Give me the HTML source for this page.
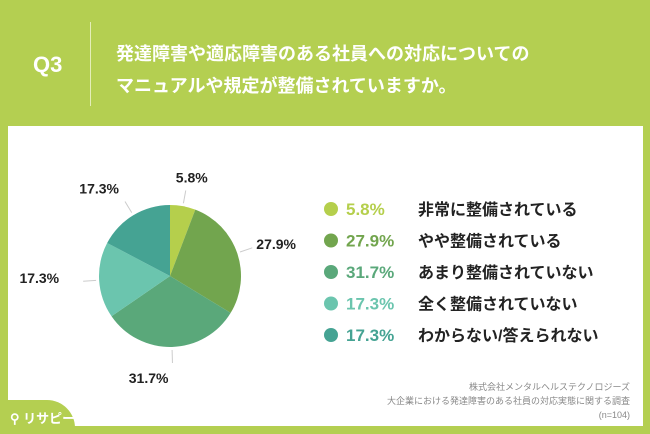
<!DOCTYPE html>
<html><head><meta charset="utf-8"><style>
body{margin:0;width:650px;height:434px;background:#b4cf51;position:relative;overflow:hidden;font-family:"Liberation Sans","Noto Sans CJK JP",sans-serif}
.panel{position:absolute;left:8px;top:126px;width:635px;height:300px;background:#fff}
.q{position:absolute;left:33px;top:52px;color:#fff;font-size:22px;font-weight:bold}
.sep{position:absolute;left:90px;top:22px;width:1px;height:84px;background:#e4eeb8}
.title{position:absolute;left:116px;top:38px;color:#fff;font-size:18px;font-weight:bold;line-height:32px}
.src{position:absolute;right:20px;top:380px;color:#888;font-size:9px;text-align:right;line-height:14px}
.logo{position:absolute;left:0;top:400px;width:75px;height:34px;background:#b4cf51;border-top-right-radius:28px;color:#fff;font-size:13px;font-weight:bold;padding:8px 0 0 10px;box-sizing:border-box;white-space:nowrap}
</style></head><body>
<div class="q">Q3</div>
<div class="sep"></div>
<div class="title">発達障害や適応障害のある社員への対応についての<br>マニュアルや規定が整備されていますか。</div>
<div class="panel"></div>
<svg width="650" height="434" style="position:absolute;left:0;top:0" id="svg"></svg>
<div class="src">株式会社メンタルヘルステクノロジーズ<br>大企業における発達障害のある社員の対応実態に関する調査<br>(n=104)</div>
<div class="logo">⚲ リサピー</div>
<script>
const categories=["非常に整備されている","やや整備されている","あまり整備されていない","全く整備されていない","わからない/答えられない"];
const values=[5.8,27.9,31.7,17.3,17.3];
const colors=["#b5cf4c","#72a54e","#5aa87a","#6bc5ae","#45a393"];
const svg=document.getElementById('svg');const NS="http://www.w3.org/2000/svg";
const cx=170,cy=276,r=71;
const total=values.reduce((a,b)=>a+b,0);
function pt(a,rr){return [cx+rr*Math.sin(a),cy-rr*Math.cos(a)];}
let acc=0;
values.forEach((v,i)=>{
 const a0=acc/total*2*Math.PI;acc+=v;const a1=acc/total*2*Math.PI;
 const p0=pt(a0,r),p1=pt(a1,r);
 const p=document.createElementNS(NS,'path');
 p.setAttribute('d',`M${cx},${cy}L${p0[0]},${p0[1]}A${r},${r} 0 ${a1-a0>Math.PI?1:0} 1 ${p1[0]},${p1[1]}Z`);
 p.setAttribute('fill',colors[i]);
 
 
 svg.appendChild(p);
 const am=(a0+a1)/2;const l0=pt(am,r+3),l1=pt(am,r+16);
 const ln=document.createElementNS(NS,'line');
 ln.setAttribute('x1',l0[0]);ln.setAttribute('y1',l0[1]);ln.setAttribute('x2',l1[0]);ln.setAttribute('y2',l1[1]);
 ln.setAttribute('stroke','#ccc');
 
 
 svg.appendChild(ln);
 const s=Math.sin(am),c0=Math.cos(am);
 let tx,ty,anchor;
 if(s>0.6){tx=l1[0]+4;ty=l1[1]+1;anchor='start';}
 else if(s<-0.6){tx=l1[0]-24;ty=l1[1]+2;anchor='end';}
 else if(c0<0){tx=l1[0]-4;ty=l1[1]+20;anchor='end';}
 else {tx=l1[0]+(s<0?-6:6);ty=l1[1]-8;anchor=s<0?'end':'middle';}
 const t=document.createElementNS(NS,'text');
 t.setAttribute('x',tx);t.setAttribute('y',ty);
 t.setAttribute('text-anchor',anchor);
 t.setAttribute('font-size','14');t.setAttribute('font-weight','bold');t.setAttribute('fill','#222');
 t.textContent=v.toFixed(1)+'%';
 
 
 svg.appendChild(t);
 const y=209+i*31.5;
 const c=document.createElementNS(NS,'circle');
 c.setAttribute('cx',331);c.setAttribute('cy',y);c.setAttribute('r',7);c.setAttribute('fill',colors[i]);
 
 
 svg.appendChild(c);
 const tp=document.createElementNS(NS,'text');
 tp.setAttribute('x',346);tp.setAttribute('y',y+6);tp.setAttribute('font-size','17');tp.setAttribute('font-weight','bold');tp.setAttribute('fill',colors[i]);
 tp.textContent=v.toFixed(1)+'%';
 
 
 svg.appendChild(tp);
 const tl=document.createElementNS(NS,'text');
 tl.setAttribute('x',418);tl.setAttribute('y',y+6);tl.setAttribute('font-size','16');tl.setAttribute('font-weight','bold');tl.setAttribute('fill','#222');
 tl.textContent=categories[i];
 
 
 svg.appendChild(tl);
});
</script>
</body></html>
